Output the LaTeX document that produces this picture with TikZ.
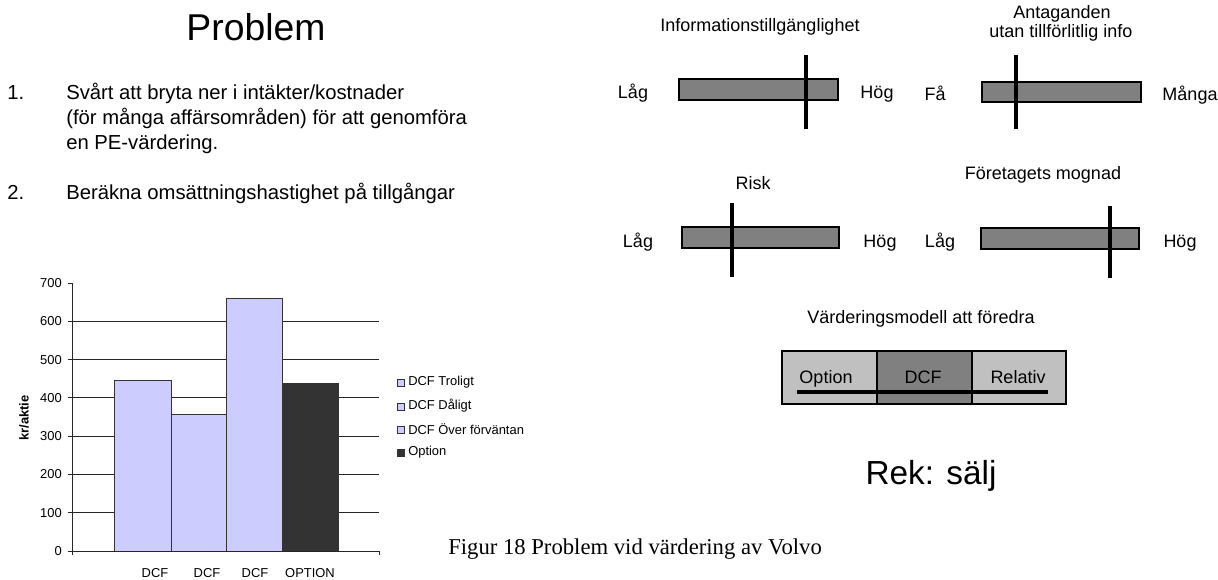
\documentclass[tikz,border=0pt]{standalone}
\usepackage{fontspec}
\setmainfont{Liberation Sans}
\newfontfamily\capserif{Liberation Serif}
\usepackage{tikz}

\definecolor{lavender}{HTML}{CCCCFF}
\definecolor{darkbar}{HTML}{333333}
\definecolor{lightcell}{HTML}{C0C0C0}
\definecolor{midcell}{HTML}{808080}

\tikzset{
  txt/.style={inner sep=0pt, anchor=base, font=\fontsize{13.5}{16}\selectfont},
  listtxt/.style={inner sep=0pt, anchor=base west, font=\fontsize{15.2}{18}\selectfont},
  chtxt/.style={inner sep=0pt, font=\fontsize{9.7}{12}\selectfont},
  scalebar/.style={draw=black, fill=midcell, line width=0.9pt},
  marker/.style={draw=black, line width=2.4pt},
  cell/.style={draw=black, line width=0.9pt},
  barline/.style={draw=black!80, line width=0.75pt},
  gridln/.style={draw=black!85, line width=0.75pt},
}

\begin{document}
\begin{tikzpicture}[x=0.75pt, y=-0.75pt]
  \useasboundingbox (0,0) rectangle (1218,579);

  % problem list
  \node[txt, font=\fontsize{28}{32}\selectfont] (title) at (256,40) {Problem};
  \node[listtxt] (num1) at (7,99) {1.};
  \node[listtxt] (item1a) at (66,99) {Svårt att bryta ner i intäkter/kostnader};
  \node[listtxt] (item1b) at (66,124) {(för många affärsområden) för att genomföra};
  \node[listtxt] (item1c) at (66,149) {en PE-värdering.};
  \node[listtxt] (num2) at (7,199) {2.};
  \node[listtxt] (item2) at (66,199) {Beräkna omsättningshastighet på tillgångar};

  % chart
  \foreach \v in {1,...,6}
    \draw[gridln] (72,{551-38.286*\v}) -- (379,{551-38.286*\v});
  \draw[barline, fill=lavender] (114,551) rectangle (171,380);
  \draw[barline, fill=lavender] (171,551) rectangle (226,414);
  \draw[barline, fill=lavender] (226,551) rectangle (282,298);
  \draw[barline, fill=darkbar] (282,551) rectangle (338,383);
  \draw[gridln] (72,283) -- (72,555);
  \draw[gridln] (68,551) -- (379,551) -- (379,555);
  \foreach \v in {0,...,7} {
    \draw[gridln] (68,{551-38.286*\v}) -- (72,{551-38.286*\v});
    \node[chtxt, anchor=east] (ylab\v) at (62,{551-38.286*\v}) {\the\numexpr\v*100\relax};
  }
  \node[chtxt, rotate=90, font=\fontsize{9.7}{12}\selectfont\bfseries] (ytitle) at (24,418) {kr/aktie};
  \node[chtxt, anchor=base] (cat1) at (155,577) {DCF};
  \node[chtxt, anchor=base] (cat2) at (207,577) {DCF};
  \node[chtxt, anchor=base] (cat3) at (255,577) {DCF};
  \node[chtxt, anchor=base] (cat4) at (310,577) {OPTION};

  % legend
  \draw[barline, fill=lavender] (397,379) rectangle (404,386);
  \draw[barline, fill=lavender] (397,403) rectangle (404,410);
  \draw[barline, fill=lavender] (397,426) rectangle (404,433);
  \draw[barline, fill=darkbar] (397,449) rectangle (404,456);
  \node[chtxt, anchor=west] (leg1) at (408,382) {DCF Troligt};
  \node[chtxt, anchor=west] (leg2) at (408,406) {DCF Dåligt};
  \node[chtxt, anchor=west] (leg3) at (408,429) {DCF Över förväntan};
  \node[chtxt, anchor=west] (leg4) at (408,452) {Option};

  \node[inner sep=0pt, anchor=base west, font=\capserif\fontsize{17}{20}\selectfont] (caption) at (448,554) {Figur 18 Problem vid värdering av Volvo};

  % scales
  \node[txt] (infohead) at (760,31) {Informationstillgänglighet};
  \draw[scalebar] (679,79) rectangle (838,100);
  \draw[marker] (806,55) -- (806,129);
  \node[txt] (infolo) at (633,98) {Låg};
  \node[txt] (infohi) at (877,98) {Hög};

  \node[txt] (anthead) at (1062,18) {Antaganden};
  \node[txt] (antsub) at (1061,37) {utan tillförlitlig info};
  \draw[scalebar] (982,82) rectangle (1141,102);
  \draw[marker] (1016,55) -- (1016,129);
  \node[txt] (antlo) at (935,100) {Få};
  \node[txt] (anthi) at (1190,100) {Många};

  \node[txt] (riskhead) at (753,189) {Risk};
  \draw[scalebar] (682,227) rectangle (839,248);
  \draw[marker] (732,203) -- (732,277);
  \node[txt] (risklo) at (638,247) {Låg};
  \node[txt] (riskhi) at (880,247) {Hög};

  \node[txt] (maturehead) at (1043,179) {Företagets mognad};
  \draw[scalebar] (981,228) rectangle (1139,249);
  \draw[marker] (1110,206) -- (1110,278);
  \node[txt] (maturelo) at (940,247) {Låg};
  \node[txt] (maturehi) at (1180,247) {Hög};

  % preferred model
  \node[txt] (modelhead) at (921,323) {Värderingsmodell att föredra};
  \draw[cell, fill=lightcell] (782,351) rectangle (877,404);
  \draw[cell, fill=midcell] (877,351) rectangle (972,404);
  \draw[cell, fill=lightcell] (972,351) rectangle (1066,404);
  \node[txt] (optcell) at (826,383) {Option};
  \node[txt] (dcfcell) at (923,383) {DCF};
  \node[txt] (relcell) at (1018,383) {Relativ};
  \draw[marker] (797,392) -- (1048,392);

  \node[txt, font=\fontsize{25}{30}\selectfont] (rek) at (931,484) {Rek: sälj};
\end{tikzpicture}
\end{document}
